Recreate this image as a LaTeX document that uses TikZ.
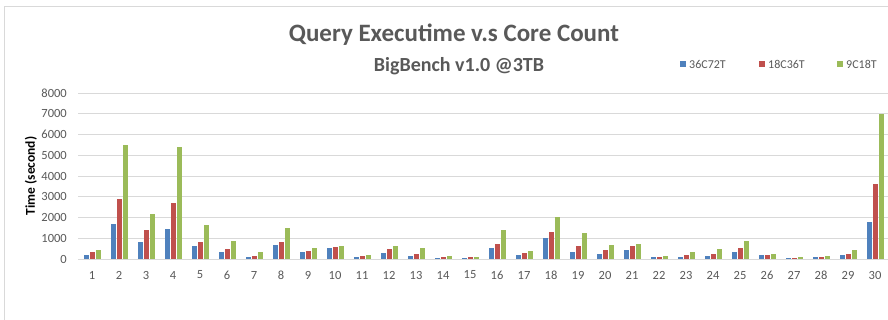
\documentclass[tikz,border=0pt]{standalone}
\usepackage{fontspec}
\setmainfont{Carlito}
\definecolor{sA}{HTML}{4F81BD}
\definecolor{sB}{HTML}{C0504D}
\definecolor{sC}{HTML}{9BBB59}
\definecolor{gridc}{HTML}{D9D9D9}
\definecolor{txt}{HTML}{595959}
\begin{document}
\begin{tikzpicture}[x=1pt,y=-1pt,
  ticklab/.style={font=\fontsize{12.5}{14}\selectfont, text=txt, inner sep=0pt},
  leglab/.style={font=\fontsize{12}{14}\selectfont, text=txt, inner sep=0pt, anchor=west},
  gridline/.style={draw=gridc, line width=0.8pt},
  frameline/.style={draw=gridc, line width=0.8pt}]
\useasboundingbox (0,0) rectangle (888,320);
\fill[white] (0,0) rectangle (888,320);
% frame
\coordinate (fTL) at (4,6);
\coordinate (fTR) at (888,6);
\coordinate (fBL) at (4,320);
\draw[frameline] (fBL) -- (fTL) -- (fTR);
% gridlines and tick labels
\foreach \k in {0,...,8}{
  \coordinate (gL\k) at (78,{259-20.75*\k});
  \coordinate (gR\k) at (888,{259-20.75*\k});
  \draw[gridline] (gL\k) -- (gR\k);
  \pgfmathtruncatemacro{\val}{1000*\k}
  \node[ticklab, anchor=east] (tick\k) at (67,{259-20.75*\k}) {\val};
}
% bars
\foreach \i/\a/\b/\c in {1/200/320/420, 2/1690/2890/5480, 3/820/1380/2150, 4/1450/2720/5390,
  5/630/820/1640, 6/350/470/870, 7/100/145/350, 8/660/820/1500, 9/350/400/515,
  10/515/560/630, 11/100/145/210, 12/305/470/630, 13/145/257/515, 14/50/100/145,
  15/50/100/100, 16/515/720/1380, 17/210/305/400, 18/1030/1290/2000, 19/350/630/1240,
  20/257/420/675, 21/420/630/720, 22/100/100/145, 23/100/210/350, 24/145/257/470,
  25/350/515/870, 26/210/210/257, 27/50/50/100, 28/100/100/145, 29/210/257/420,
  30/1800/3600/7000}{
  \pgfmathsetmacro{\cx}{92+27*(\i-1)}
  \fill[sA] ({\cx-8.5},259) rectangle ({\cx-3.5},{259-0.02075*\a});
  \fill[sB] ({\cx-2.5},259) rectangle ({\cx+2.5},{259-0.02075*\b});
  \fill[sC] ({\cx+3.5},259) rectangle ({\cx+8.5},{259-0.02075*\c});
  \node[ticklab] (cat\i) at (\cx,275) {\i};
}
% titles
\node[font=\bfseries\fontsize{25}{30}\selectfont, text=txt, inner sep=0pt, anchor=base] (title) at (454,42) {Query Executime v.s Core Count};
\node[font=\bfseries\fontsize{20}{24}\selectfont, text=txt, inner sep=0pt, anchor=base] (subtitle) at (459,72) {BigBench v1.0 @3TB};
% axis title
\node[font=\bfseries\fontsize{13.5}{16}\selectfont, text=black, rotate=90, inner sep=0pt] (ytitle) at (31,176) {Time (second)};
% legend
\fill[sA] (680,61) rectangle (686,67);
\node[leglab] (legA) at (689,64) {36C72T};
\fill[sB] (759,61) rectangle (765,67);
\node[leglab] (legB) at (768,64) {18C36T};
\fill[sC] (837,61) rectangle (843,67);
\node[leglab] (legC) at (846,64) {9C18T};
\end{tikzpicture}
\end{document}
